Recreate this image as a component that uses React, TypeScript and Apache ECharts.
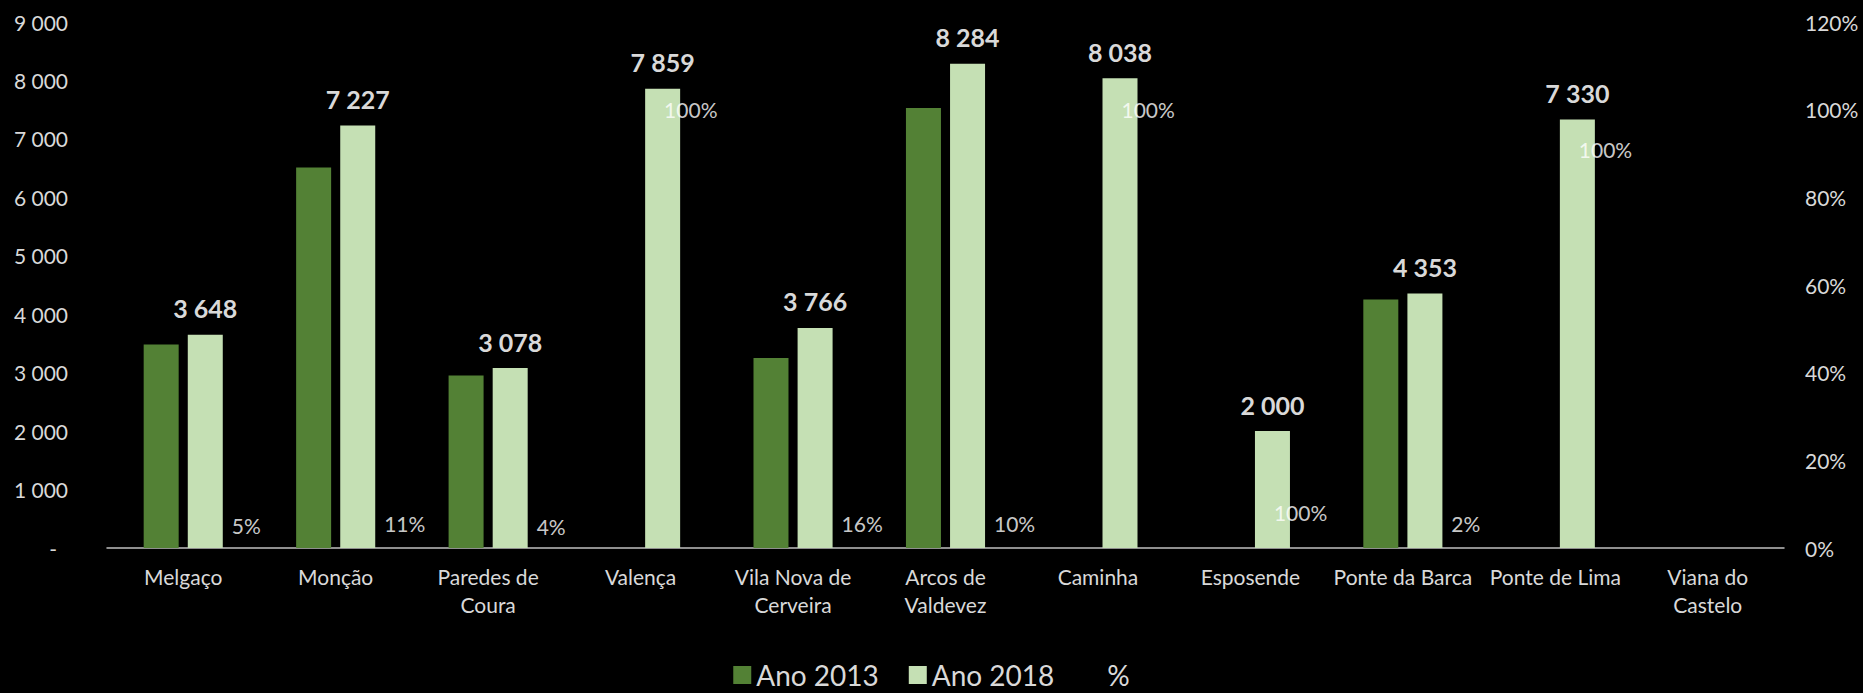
import React, { useEffect, useRef } from "react";
import * as echarts from "echarts";

const categories = [
  "Melgaço",
  "Monção",
  "Paredes de\nCoura",
  "Valença",
  "Vila Nova de\nCerveira",
  "Arcos de\nValdevez",
  "Caminha",
  "Esposende",
  "Ponte da Barca",
  "Ponte de Lima",
  "Viana do\nCastelo",
];
const ano2013 = [3480, 6510, 2950, null, 3250, 7530, null, null, 4250, null, null];
const ano2018 = [3648, 7227, 3078, 7859, 3766, 8284, 8038, 2000, 4353, 7330, null];
// % values shown in the labels
const pctShown = [5, 11, 4, 100, 16, 10, 100, 100, 2, 100, null];
// level (on the % axis) at which each % label sits in the picture
const pctLevel = [5.2, 5.7, 4.8, 100, 5.7, 5.7, 100, 8.2, 5.5, 91, null];
const leftTicks = { min: 0, max: 9000, interval: 1000 };
const rightTicks = { min: 0, max: 120, interval: 20 };

const FONT = "Lato, 'Noto Sans', sans-serif";
const fmtThousands = (v: number) =>
  String(Math.round(v)).replace(/\B(?=(\d{3})+(?!\d))/g, " ");

export default function App() {
  const ref = useRef<HTMLDivElement>(null);
  useEffect(() => {
    document.body.style.margin = "0";
    document.body.style.background = "#000";
    if (!ref.current) return;
    const chart = echarts.init(ref.current, null, { renderer: "svg" });
    const pctData = pctShown.map((v, i) =>
      v == null
        ? null
        : {
            value: [i, pctLevel[i]],
            shown: v,
            label: { offset: [v >= 100 ? 23 : 48, 0] },
          }
    );
    chart.setOption({
      animation: false,
      backgroundColor: "#000",
      textStyle: { fontFamily: FONT },
      grid: { left: 107, right: 79, top: 22, bottom: 145, containLabel: false },
      legend: {
        top: 660,
        left: "center",
        icon: "rect",
        itemWidth: 18,
        itemHeight: 18,
        itemGap: 30,
        padding: 0,
        textStyle: { color: "#d9d9d9", fontSize: 28, lineHeight: 30, fontFamily: FONT },
        data: [
          { name: "Ano 2013" },
          { name: "Ano 2018" },
          { name: "%", itemStyle: { color: "transparent", opacity: 0 } },
        ],
      },
      xAxis: {
        type: "category",
        data: categories,
        axisLine: { show: true, lineStyle: { color: "#bfbfbf", width: 1.5 } },
        axisTick: { show: false },
        axisLabel: {
          color: "#d9d9d9",
          fontSize: 21,
          fontFamily: FONT,
          lineHeight: 28,
          margin: 14,
          interval: 0,
        },
      },
      yAxis: [
        {
          type: "value",
          ...leftTicks,
          splitLine: { show: false },
          axisLine: { show: false },
          axisTick: { show: false },
          axisLabel: {
            color: "#d9d9d9",
            fontSize: 21,
            fontFamily: FONT,
            margin: 39,
            formatter: (v: number) => (v === 0 ? "{d|-}" : fmtThousands(v)),
            rich: {
              d: { color: "#d9d9d9", fontSize: 21, fontFamily: FONT, padding: [0, 11, 0, 0] },
            },
          },
        },
        {
          type: "value",
          ...rightTicks,
          splitLine: { show: false },
          axisLine: { show: false },
          axisTick: { show: false },
          axisLabel: {
            color: "#d9d9d9",
            fontSize: 21,
            fontFamily: FONT,
            margin: 21,
            formatter: "{value}%",
          },
        },
      ],
      series: [
        {
          name: "Ano 2013",
          type: "bar",
          data: ano2013,
          barWidth: 35,
          barGap: "26%",
          itemStyle: { color: "#538135" },
        },
        {
          name: "Ano 2018",
          type: "bar",
          data: ano2018,
          barWidth: 35,
          barGap: "26%",
          itemStyle: { color: "#c5e0b4" },
          label: {
            show: true,
            position: "top",
            distance: 14,
            color: "#d9d9d9",
            fontSize: 25,
            fontWeight: "bold",
            fontFamily: FONT,
            formatter: (p: any) => fmtThousands(p.value),
          },
        },
        {
          name: "%",
          type: "scatter",
          yAxisIndex: 1,
          data: pctData,
          symbolSize: 1,
          itemStyle: { color: "transparent" },
          label: {
            show: true,
            position: "right",
            distance: 0,
            color: "#ffffff",
            fontSize: 21,
            fontFamily: FONT,
            formatter: (p: any) => (p.data ? p.data.shown + "%" : ""),
          },
          z: 5,
        },
      ],
    });
    return () => chart.dispose();
  }, []);
  return <div ref={ref} style={{ width: 1863, height: 693, background: "#000" }} />;
}
